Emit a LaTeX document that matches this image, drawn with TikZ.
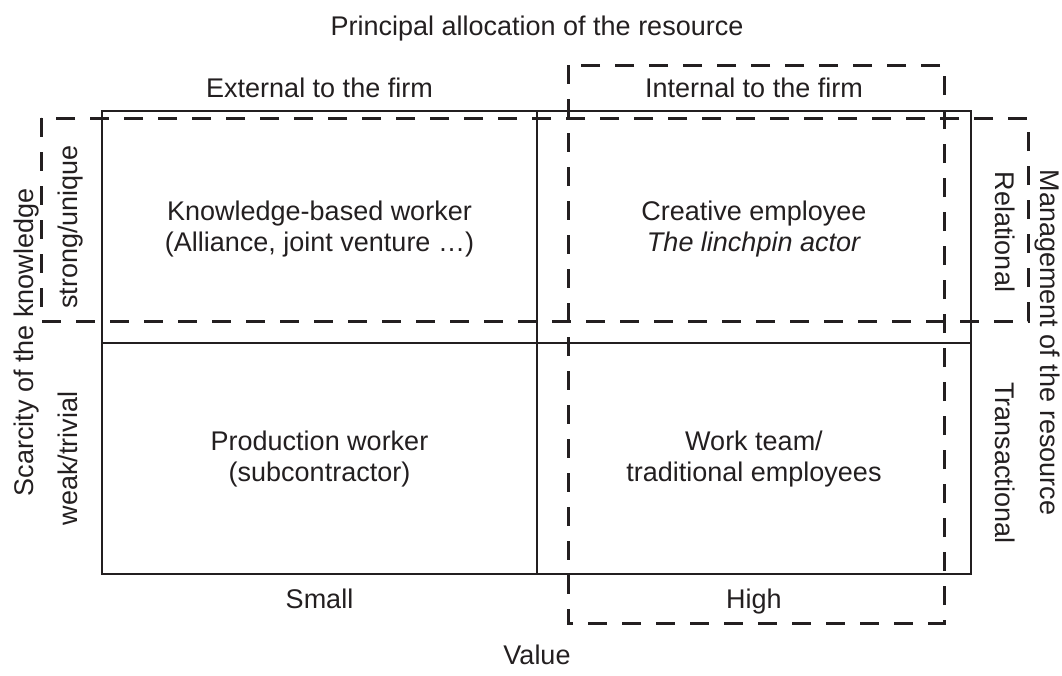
\documentclass[tikz,border=0pt]{standalone}
\usepackage{fontspec}
\setmainfont{Liberation Sans}
\definecolor{ink}{HTML}{231F20}
\begin{document}
\begin{tikzpicture}[x=1pt, y=-1pt,
  every node/.style={inner sep=0pt, outer sep=0pt, text=ink,
    font=\fontsize{27}{31}\selectfont},
  grid/.style={draw=ink, line width=2pt},
  zone/.style={draw=ink, line width=3pt, dash pattern=on 19pt off 15pt},
  cell/.style={align=center},
  lbl/.style={anchor=base}]
\useasboundingbox (0,0) rectangle (1062,675);

% the 2x2 matrix
\draw[grid] (102,111) rectangle (971,574);
\draw[grid] (537,111) -- (537,574);
\draw[grid] (102,343) -- (971,343);

% dashed zones: strong knowledge (row) and internal allocation (column)
\draw[zone] (41,118) rectangle (1028,321);
\draw[zone] (568,65) rectangle (944,623);

% axis titles and categories
\node[lbl] (title) at (537,35) {Principal allocation of the resource};
\node[lbl] (ext) at (319.5,97) {External to the firm};
\node[lbl] (int) at (754,97) {Internal to the firm};
\node[lbl] (small) at (319.5,608) {Small};
\node[lbl] (high) at (754,608) {High};
\node[lbl] (value) at (537,664) {Value};
\node[lbl, rotate=90] (scarcity) at (33,342.5) {Scarcity of the knowledge};
\node[lbl, rotate=90] (strong) at (77,227) {strong/unique};
\node[lbl, rotate=90] (weak) at (77,458.5) {weak/trivial};
\node[lbl, rotate=-90] (mgmt) at (1040,342.5) {Management of the resource};
\node[lbl, rotate=-90] (relational) at (995,232) {Relational};
\node[lbl, rotate=-90] (transactional) at (995,463) {Transactional};

% cell contents
\node[cell] (kworker) at (319.5,229) {Knowledge-based worker\\(Alliance, joint venture …)};
\node[cell] (creative) at (754,229) {Creative employee\\\textit{The linchpin actor}};
\node[cell] (production) at (319.5,459) {Production worker\\(subcontractor)};
\node[cell] (team) at (754,459) {Work team/\\traditional employees};
\end{tikzpicture}
\end{document}
